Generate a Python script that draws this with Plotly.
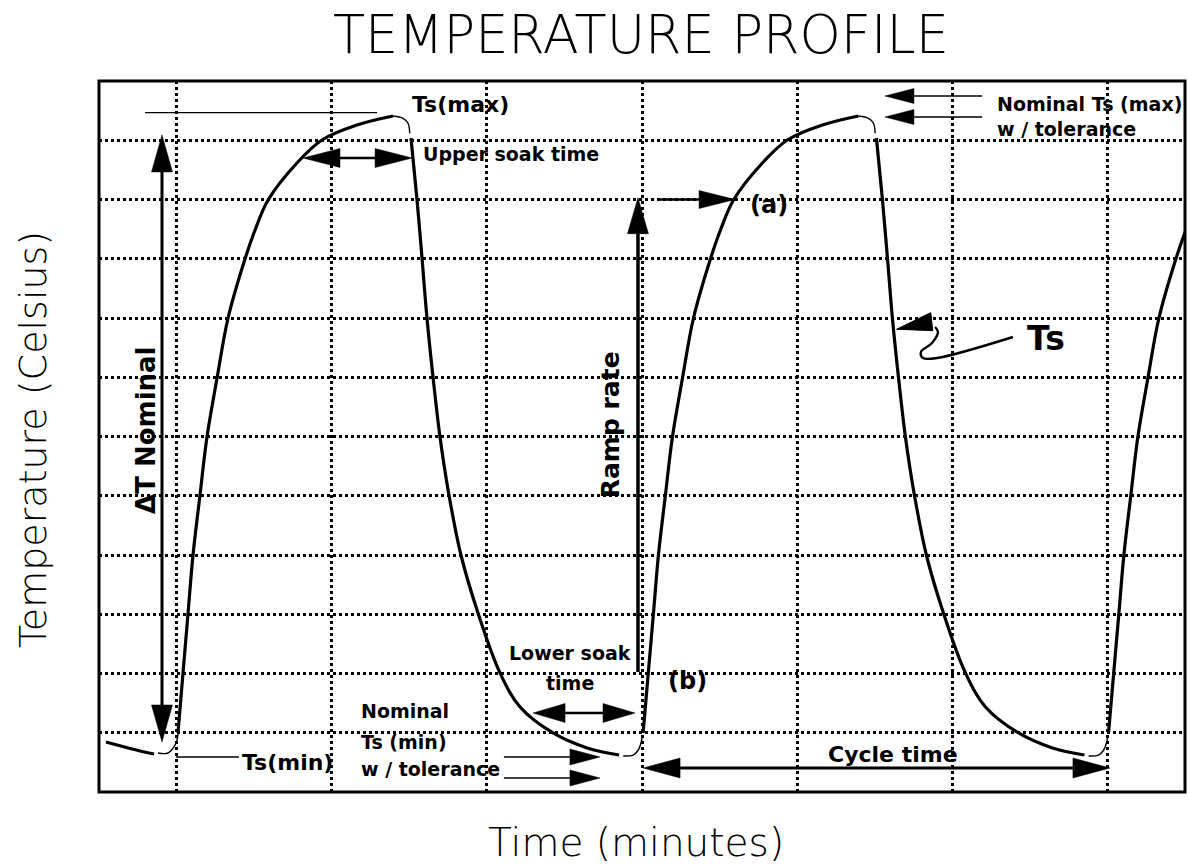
import plotly.graph_objects as go

# ---------------- data (time / temperature in grid units) ----------------
# previous-cycle tail at the left edge
tail_time = [0.045, 0.200, 0.355]
tail_temp = [0.844, 0.735, 0.641]

# cycle 1
corner1_time = [0.380, 0.445, 0.483, 0.503, 0.509]
corner1_temp = [0.658, 0.658, 0.760, 0.878, 0.979]
rise1_time = [0.509, 0.574, 0.606, 0.651, 0.696, 0.761, 0.832, 0.941, 1.006, 1.090, 1.276, 1.437, 1.663, 1.895]
rise1_temp = [0.996, 3.021, 4.000, 5.013, 5.992, 6.987, 8.000, 8.996, 9.485, 9.992, 10.616, 11.004, 11.257, 11.409]
top1_time = [1.895, 1.960, 1.992, 2.003]
top1_temp = [11.409, 11.370, 11.286, 11.117]
fall1_time = [2.011, 2.050, 2.082, 2.114, 2.153, 2.198, 2.256, 2.333, 2.443, 2.585, 2.714, 2.927, 3.146, 3.352]
fall1_temp = [11.038, 9.992, 9.013, 8.000, 7.004, 5.992, 5.010, 4.000, 3.021, 2.008, 1.435, 0.996, 0.743, 0.624]

# cycle 2
corner2_time = [3.379, 3.443, 3.476, 3.493, 3.502]
corner2_temp = [0.608, 0.624, 0.709, 0.822, 0.934]
rise2_time = [3.507, 3.574, 3.606, 3.651, 3.696, 3.761, 3.832, 3.941, 4.006, 4.090, 4.276, 4.437, 4.663, 4.895]
rise2_temp = [0.996, 3.021, 4.000, 5.013, 5.992, 6.987, 8.000, 8.996, 9.485, 9.992, 10.616, 11.004, 11.257, 11.409]
top2_time = [4.895, 4.960, 4.992, 5.003]
top2_temp = [11.409, 11.370, 11.286, 11.117]
fall2_time = [5.011, 5.050, 5.082, 5.114, 5.153, 5.198, 5.256, 5.333, 5.443, 5.585, 5.714, 5.927, 6.146, 6.352]
fall2_temp = [11.038, 9.992, 9.013, 8.000, 7.004, 5.992, 5.010, 4.000, 3.021, 2.008, 1.435, 0.996, 0.743, 0.624]

# cycle 3 (runs off the right edge)
corner3_time = [6.379, 6.443, 6.476, 6.493, 6.502]
corner3_temp = [0.608, 0.624, 0.709, 0.822, 0.934]
rise3_time = [6.507, 6.574, 6.606, 6.651, 6.696, 6.761, 6.832, 6.941, 7.006, 7.090, 7.276]
rise3_temp = [0.996, 3.021, 4.000, 5.013, 5.992, 6.987, 8.000, 8.996, 9.485, 9.992, 10.616]

# reference levels
tsmax_line_time = [0.297, 1.792]
tsmax_line_temp = [11.465, 11.465]
tsmin_line_time = [0.496, 0.902]
tsmin_line_temp = [0.591, 0.591]

# "Ts" leader line
ts_leader_time = [5.891, 5.402, 5.311, 5.298, 5.369, 5.408, 5.389]
ts_leader_temp = [7.679, 7.325, 7.325, 7.426, 7.578, 7.764, 7.848]
ts_head_time = [5.141, 5.361, 5.374]
ts_head_temp = [7.810, 8.090, 7.786]

# arrows: tail -> tip, and whether double-headed
arrow_names = ["dT", "ramp", "a", "upper", "lower", "cycle", "min1", "min2", "max1", "max2"]
arrow_tail_time = [0.406, 3.474, 3.616, 1.315, 2.798, 3.507, 2.610, 2.610, 5.692, 5.692]
arrow_tail_temp = [0.844, 2.025, 10.000, 10.700, 1.333, 0.405, 0.591, 0.236, 11.747, 11.392]
arrow_tip_time = [0.406, 3.474, 4.100, 2.018, 3.455, 6.516, 3.229, 3.229, 5.066, 5.066]
arrow_tip_temp = [11.090, 10.030, 10.000, 10.700, 1.333, 0.405, 0.591, 0.236, 11.747, 11.392]
arrow_double = [True, False, False, True, True, True, False, False, False, False]

# text labels
labels = ["Ts(max)", "Upper soak time", "Ts(min)", "Nominal", "Ts (min)", "w / tolerance",
          "Lower soak", "time", "(a)", "(b)", "Nominal Ts (max)", "w / tolerance", "Ts",
          "Cycle time"]
label_time = [2.005, 2.076, 0.912, 1.676, 1.676, 1.676, 3.036, 3.036, 4.183, 3.655, 5.775, 5.775, 5.969, 4.686]
label_temp = [11.61, 10.77, 0.506, 1.367, 0.844, 0.388, 2.346, 1.840, 9.907, 1.873, 11.612, 11.190, 7.662, 0.641]
rot_labels = ["\u0394T Nominal", "Ramp rate"]
rot_label_time = [0.303, 3.294]
rot_label_temp = [6.11, 6.19]

TITLE = "TEMPERATURE PROFILE"
X_TITLE = "Time (minutes)"
Y_TITLE = "Temperature (Celsius)"

# ---------------- layout geometry ----------------
W, H = 1188, 865
ML, MR, MT, MB = 99, 3, 81, 73
XR, YR = [0, 7], [0, 12]
PLOT_W = W - ML - MR
PLOT_H = H - MT - MB
PXX = PLOT_W / (XR[1] - XR[0])
PXY = PLOT_H / (YR[1] - YR[0])


def paper_x(px):
    return (px - ML) / PLOT_W


def paper_y(py):
    return (H - MB - py) / PLOT_H


fig = go.Figure()


def add_line(xs, ys, width, shape="spline"):
    fig.add_trace(go.Scatter(x=xs, y=ys, mode="lines",
                             line=dict(color="black", width=width, shape=shape, smoothing=1.0),
                             hoverinfo="skip", showlegend=False))


thick = 3.2
thin = 1.4
add_line(tail_time, tail_temp, thick)
add_line(corner1_time, corner1_temp, thin)
add_line(rise1_time, rise1_temp, thick)
add_line(top1_time, top1_temp, thin)
add_line(fall1_time, fall1_temp, thick)
add_line(corner2_time, corner2_temp, thin)
add_line(rise2_time, rise2_temp, thick)
add_line(top2_time, top2_temp, thin)
add_line(fall2_time, fall2_temp, thick)
add_line(corner3_time, corner3_temp, thin)
add_line(rise3_time, rise3_temp, thick)
add_line(tsmax_line_time, tsmax_line_temp, 1.3, "linear")
add_line(tsmin_line_time, tsmin_line_temp, 1.3, "linear")
add_line(ts_leader_time, ts_leader_temp, 2.4)
fig.add_trace(go.Scatter(x=ts_head_time + ts_head_time[:1], y=ts_head_temp + ts_head_temp[:1],
                         mode="lines", fill="toself", fillcolor="black",
                         line=dict(color="black", width=1), hoverinfo="skip", showlegend=False))

shapes = []
head_len = {"dT": 37, "ramp": 36, "a": 36, "upper": 37, "lower": 32, "cycle": 37,
            "min1": 30, "min2": 30, "max1": 29, "max2": 29}
head_hw = {"dT": 10.5, "ramp": 10.5, "a": 9, "upper": 9.5, "lower": 9.5, "cycle": 10,
           "min1": 8, "min2": 8, "max1": 7.5, "max2": 7.5}
shaft_w = {"dT": 3, "ramp": 3.5, "a": 2.6, "upper": 2.6, "lower": 2.6, "cycle": 3,
           "min1": 1.5, "min2": 1.5, "max1": 1.5, "max2": 1.5}


def head(tipx, tipy, fromx, fromy, L, hw):
    # work in pixel units (y up)
    dx = (tipx - fromx) * PXX
    dy = (tipy - fromy) * PXY
    n = (dx * dx + dy * dy) ** 0.5
    ux, uy = dx / n, dy / n
    px, py = -uy, ux
    bx = tipx - ux * L / PXX
    by = tipy - uy * L / PXY
    p1 = (bx + px * hw / PXX, by + py * hw / PXY)
    p2 = (bx - px * hw / PXX, by - py * hw / PXY)
    path = "M {},{} L {},{} L {},{} Z".format(tipx, tipy, p1[0], p1[1], p2[0], p2[1])
    shapes.append(dict(type="path", path=path, xref="x", yref="y",
                       fillcolor="black", line=dict(color="black", width=0.5)))
    return bx, by


for i, name in enumerate(arrow_names):
    x0, y0 = arrow_tail_time[i], arrow_tail_temp[i]
    x1, y1 = arrow_tip_time[i], arrow_tip_temp[i]
    L, hw = head_len[name], head_hw[name]
    ex, ey = head(x1, y1, x0, y0, L, hw)
    sx, sy = x0, y0
    if arrow_double[i]:
        sx, sy = head(x0, y0, x1, y1, L, hw)
    shapes.append(dict(type="line", x0=sx, y0=sy, x1=ex, y1=ey, xref="x", yref="y",
                       line=dict(color="black", width=shaft_w[name])))

# frame
shapes.append(dict(type="rect", xref="paper", yref="paper", x0=0, y0=0, x1=1, y1=1,
                   line=dict(color="black", width=3)))

BOLD = "DejaVu Sans"
label_size = [22, 19, 22, 19, 19, 19, 19, 19, 24, 24, 19, 19, 33, 22]
label_anchor = ["left", "left", "left", "left", "left", "left", "center", "center",
                "left", "left", "left", "left", "left", "left"]
annotations = []
for i, t in enumerate(labels):
    annotations.append(dict(x=label_time[i], y=label_temp[i], xref="x", yref="y", text=t,
                            showarrow=False, xanchor=label_anchor[i], yanchor="middle",
                            font=dict(family=BOLD, size=label_size[i], color="black", weight="bold")))
rot_size = [26, 25]
for i, t in enumerate(rot_labels):
    annotations.append(dict(x=rot_label_time[i], y=rot_label_temp[i], xref="x", yref="y", text=t,
                            showarrow=False, textangle=-90, xanchor="center", yanchor="middle",
                            font=dict(family=BOLD, size=rot_size[i], color="black", weight="bold")))

THIN = "DejaVu Sans ExtraLight, DejaVu Sans"
annotations.append(dict(x=paper_x(641), y=paper_y(34.5), xref="paper", yref="paper",
                        text=TITLE, showarrow=False, xanchor="center", yanchor="middle",
                        font=dict(family=THIN, size=52.5, color="black", weight=200)))
annotations.append(dict(x=paper_x(636), y=paper_y(842), xref="paper", yref="paper",
                        text=X_TITLE, showarrow=False, xanchor="center", yanchor="middle",
                        font=dict(family=THIN, size=39, color="black", weight=200)))
annotations.append(dict(x=paper_x(33), y=paper_y(440), xref="paper", yref="paper",
                        text=Y_TITLE, showarrow=False, textangle=-90,
                        xanchor="center", yanchor="middle",
                        font=dict(family=THIN, size=38, color="black", weight=200)))

fig.update_layout(
    width=W, height=H, margin=dict(l=ML, r=MR, t=MT, b=MB),
    paper_bgcolor="white", plot_bgcolor="white",
    shapes=shapes, annotations=annotations, showlegend=False,
    xaxis=dict(range=XR, tick0=0.5, dtick=1, showgrid=True, gridcolor="black", gridwidth=2.5,
               griddash="3px,3px", zeroline=False, showticklabels=False, ticks="", showline=False,
               fixedrange=True),
    yaxis=dict(range=YR, tick0=0, dtick=1, showgrid=True, gridcolor="black", gridwidth=2.5,
               griddash="3px,3px", zeroline=False, showticklabels=False, ticks="", showline=False,
               fixedrange=True),
)

# remove the browser's default 8px page margin so the figure fills the window exactly
fig.write_html("out.html", config={"displayModeBar": False},
               post_script="document.body.style.margin='0';document.body.style.overflow='hidden';")
